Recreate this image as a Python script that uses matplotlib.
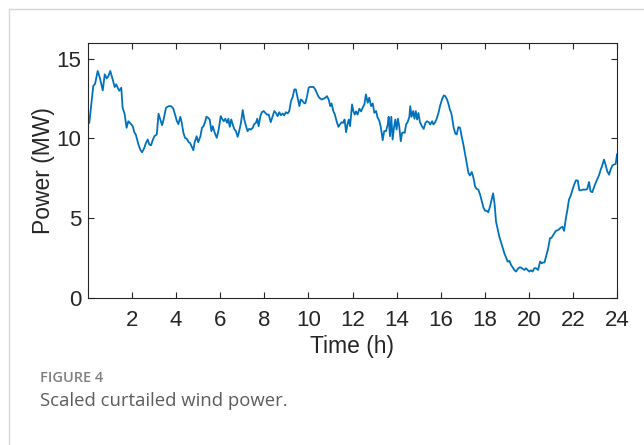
import matplotlib
matplotlib.use("Agg")
import matplotlib.pyplot as plt
from matplotlib.patches import Rectangle

time_h = [
    0.00, 0.06, 0.24, 0.32, 0.44, 0.54, 0.67, 0.76, 0.85, 0.92, 1.01, 1.12, 1.21, 1.28, 1.36, 1.42,
    1.51, 1.57, 1.66, 1.75, 1.83, 1.93, 2.03, 2.10, 2.17, 2.28, 2.37, 2.45, 2.54, 2.63, 2.71, 2.78,
    2.86, 2.93, 3.01, 3.12, 3.20, 3.27, 3.36, 3.43, 3.54, 3.66, 3.77, 3.87, 3.96, 4.03, 4.10, 4.19,
    4.25, 4.33, 4.40, 4.48, 4.57, 4.63, 4.72, 4.78, 4.84, 4.93, 5.00, 5.10, 5.17, 5.24, 5.31, 5.37,
    5.45, 5.52, 5.60, 5.66, 5.75, 5.84, 5.93, 6.02, 6.08, 6.16, 6.23, 6.31, 6.37, 6.43, 6.50, 6.58,
    6.65, 6.71, 6.79, 6.86, 6.94, 7.02, 7.09, 7.17, 7.24, 7.31, 7.39, 7.47, 7.54, 7.62, 7.68, 7.74,
    7.82, 7.89, 7.97, 8.04, 8.12, 8.20, 8.29, 8.38, 8.45, 8.53, 8.60, 8.68, 8.75, 8.83, 8.90, 8.98,
    9.06, 9.13, 9.21, 9.29, 9.36, 9.43, 9.51, 9.59, 9.65, 9.71, 9.79, 9.86, 9.94, 10.01, 10.08, 10.16,
    10.23, 10.31, 10.39, 10.46, 10.54, 10.61, 10.69, 10.77, 10.84, 10.92, 10.99, 11.05, 11.13, 11.20,
    11.28, 11.36, 11.43, 11.51, 11.58, 11.64, 11.71, 11.77, 11.83, 11.89, 11.98, 12.04, 12.10, 12.16,
    12.23, 12.31, 12.39, 12.46, 12.54, 12.61, 12.69, 12.76, 12.84, 12.92, 12.99, 13.07, 13.14, 13.22,
    13.29, 13.37, 13.44, 13.52, 13.60, 13.64, 13.70, 13.76, 13.82, 13.88, 13.94, 14.00, 14.06, 14.12,
    14.19, 14.25, 14.31, 14.37, 14.43, 14.50, 14.58, 14.62, 14.68, 14.75, 14.81, 14.87, 14.93, 14.99,
    15.06, 15.15, 15.23, 15.31, 15.38, 15.46, 15.53, 15.61, 15.67, 15.75, 15.82, 15.90, 15.97, 16.06,
    16.14, 16.21, 16.29, 16.36, 16.42, 16.48, 16.52, 16.59, 16.67, 16.73, 16.80, 16.88, 16.95, 17.03,
    17.10, 17.18, 17.26, 17.33, 17.41, 17.48, 17.56, 17.63, 17.71, 17.79, 17.86, 17.94, 18.01, 18.09,
    18.16, 18.24, 18.31, 18.38, 18.45, 18.51, 18.59, 18.66, 18.74, 18.81, 18.89, 18.97, 19.04, 19.12,
    19.19, 19.27, 19.34, 19.42, 19.50, 19.57, 19.65, 19.72, 19.80, 19.87, 19.95, 20.02, 20.10, 20.17,
    20.25, 20.33, 20.42, 20.51, 20.58, 20.65, 20.71, 20.78, 20.88, 20.96, 21.03, 21.11, 21.22, 21.34,
    21.44, 21.52, 21.60, 21.67, 21.75, 21.82, 21.91, 21.99, 22.07, 22.14, 22.22, 22.29, 22.37, 22.47,
    22.58, 22.65, 22.73, 22.80, 22.88, 22.96, 23.03, 23.11, 23.19, 23.26, 23.33, 23.41, 23.49, 23.56,
    23.64, 23.71, 23.79, 23.87, 23.94, 24.00,
]

power_mw = [
    10.90, 11.00, 13.30, 13.43, 14.24, 13.80, 13.02, 14.03, 13.78, 13.90, 14.24, 13.71, 13.23, 13.40, 13.15, 13.00,
    13.19, 11.93, 11.55, 10.67, 11.08, 10.94, 10.77, 10.39, 10.24, 9.66, 9.30, 9.13, 9.36, 9.72, 9.93, 9.62,
    9.57, 9.87, 10.14, 10.25, 11.55, 11.24, 10.83, 11.19, 11.93, 12.03, 12.03, 11.88, 11.44, 11.10, 10.90, 11.36,
    11.00, 10.35, 10.04, 9.98, 9.76, 9.72, 9.45, 9.26, 9.76, 10.14, 9.76, 10.14, 10.67, 10.77, 11.02, 11.36,
    11.30, 11.19, 10.46, 10.77, 10.35, 10.04, 10.56, 11.40, 11.24, 11.08, 11.24, 10.98, 11.24, 10.73, 11.19, 10.81,
    10.56, 10.46, 10.10, 10.46, 10.98, 11.78, 11.19, 10.77, 10.46, 10.60, 10.56, 10.67, 10.90, 10.98, 11.24, 10.77,
    11.40, 11.65, 11.72, 11.61, 11.50, 11.50, 11.02, 11.40, 11.72, 11.60, 11.40, 11.65, 11.45, 11.57, 11.45, 11.65,
    11.57, 11.72, 12.35, 12.62, 13.08, 13.08, 12.56, 12.03, 12.45, 12.40, 12.24, 12.20, 12.66, 13.19, 13.24, 13.23,
    13.24, 13.08, 12.83, 12.62, 12.50, 12.45, 12.50, 12.56, 12.66, 12.45, 12.03, 12.20, 11.72, 11.50,
    11.08, 10.73, 10.88, 11.02, 10.98, 11.19, 10.39, 10.88, 11.19, 10.77, 12.14, 11.72, 11.50, 11.70,
    11.50, 11.87, 11.70, 11.93, 12.14, 12.77, 12.24, 12.56, 12.03, 12.20, 11.61, 11.72, 11.30, 11.10,
    10.67, 9.89, 10.46, 10.46, 10.88, 11.36, 10.14, 11.36, 9.93, 10.67, 11.19, 10.56, 11.24, 10.77,
    9.82, 10.35, 10.38, 10.35, 10.88, 11.02, 11.36, 12.03, 11.36, 11.72, 11.24, 11.72, 11.19, 11.60,
    11.02, 10.77, 10.60, 10.98, 11.08, 11.02, 10.88, 11.08, 10.88, 11.02, 11.24, 11.60, 12.03, 12.45,
    12.70, 12.66, 12.45, 12.14, 11.80, 11.60, 11.30, 10.67, 10.30, 10.25, 10.71, 10.67, 10.14, 9.62,
    9.09, 8.46, 7.83, 7.67, 7.89, 7.57, 6.99, 6.83, 6.78, 6.46, 6.09, 5.66, 5.46, 5.45,
    5.36, 5.73, 6.15, 6.55, 5.83, 4.78, 4.26, 3.83, 3.47, 3.14, 2.78, 2.51, 2.25, 2.30,
    2.05, 1.89, 1.73, 1.63, 1.80, 1.89, 1.89, 1.80, 1.73, 1.84, 1.72, 1.63, 1.71, 1.63,
    1.84, 1.84, 1.73, 2.26, 2.15, 2.20, 2.20, 2.57, 3.10, 3.73, 3.75, 3.94, 4.18, 4.25,
    4.38, 4.45, 4.19, 4.89, 5.52, 6.15, 6.44, 6.82, 7.14, 7.37, 7.35, 6.74, 6.74, 6.79,
    6.78, 6.82, 7.26, 6.67, 6.62, 6.95, 7.20, 7.45, 7.71, 8.04, 8.30, 8.67, 8.30, 7.93,
    7.72, 8.04, 8.30, 8.36, 8.40, 9.00,
]

x_ticks = [2, 4, 6, 8, 10, 12, 14, 16, 18, 20, 22, 24]
y_ticks = [0, 5, 10, 15]
x_label = "Time (h)"
y_label = "Power (MW)"
fig_label = "FIGURE 4"
caption = "Scaled curtailed wind power."

W, H = 644, 445
fig = plt.figure(figsize=(W / 100, H / 100), dpi=100)
fig.patch.set_facecolor("white")

# light frame around the figure card
fig.add_artist(Rectangle((9 / W, -0.1), 1.2, 1 - 9 / H + 0.1, transform=fig.transFigure,
                         fill=False, edgecolor="#d6d6d6", linewidth=1.0))

ax = fig.add_axes([88 / W, 147.5 / H, 529 / W, 254.5 / H])
ax.plot(time_h, power_mw, color="#0072BD", linewidth=1.3)
ax.set_xlim(0, 24)
ax.set_ylim(0, 16)
ax.set_xticks(x_ticks)
ax.set_yticks(y_ticks)
ax.tick_params(direction="in", top=True, right=True, length=4, width=0.8,
               labelsize=16, colors="#262626")
ax.tick_params(axis="x", pad=9)
ax.tick_params(axis="y", pad=5)
for lab in ax.get_xticklabels() + ax.get_yticklabels():
    lab.set_fontfamily("Liberation Sans")
for s in ax.spines.values():
    s.set_color("#262626")
    s.set_linewidth(0.8)
ax.set_xlabel(x_label, fontsize=16.5, family="Liberation Sans", color="#262626", labelpad=3)
ax.set_ylabel(y_label, fontsize=16.5, family="Liberation Sans", color="#262626", labelpad=1)

fig.text(40 / W, 1 - 378 / H, fig_label, fontsize=10.5, family="Open Sans", weight="semibold",
         color="#808080", va="center", ha="left")
fig.text(40 / W, 1 - 401 / H, caption, fontsize=13.3, family="Open Sans", color="#5c5c5c",
         va="center", ha="left")

fig.savefig("out.png", dpi=100, facecolor="white")
